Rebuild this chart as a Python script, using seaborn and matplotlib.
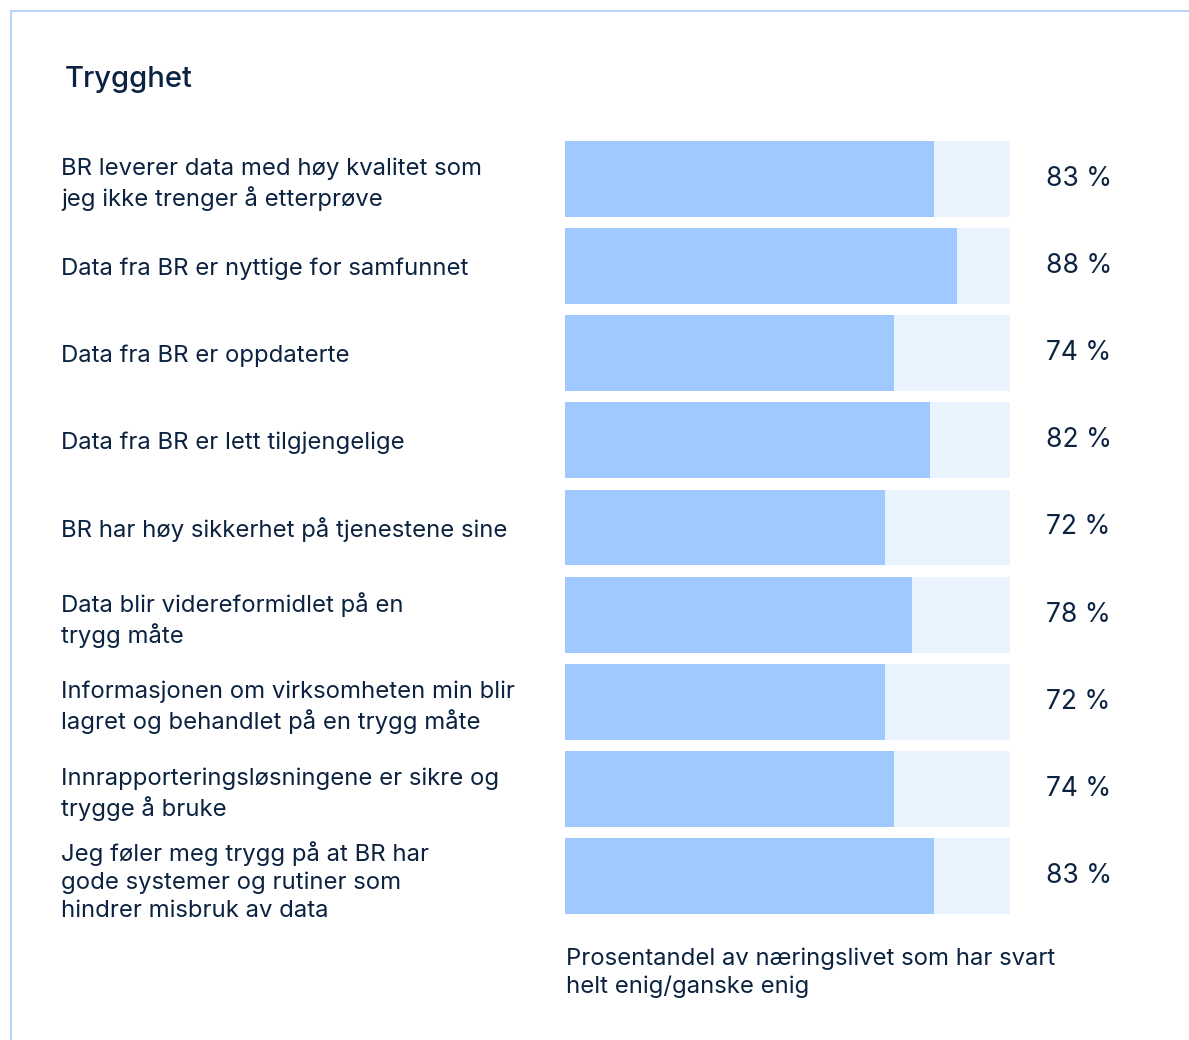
import matplotlib
matplotlib.use("Agg")
import matplotlib.pyplot as plt
from matplotlib.patches import Rectangle
import seaborn as sns
import pandas as pd

title = "Trygghet"
statements = [
    "BR leverer data med høy kvalitet som\njeg ikke trenger å etterprøve",
    "Data fra BR er nyttige for samfunnet",
    "Data fra BR er oppdaterte",
    "Data fra BR er lett tilgjengelige",
    "BR har høy sikkerhet på tjenestene sine",
    "Data blir videreformidlet på en\ntrygg måte",
    "Informasjonen om virksomheten min blir\nlagret og behandlet på en trygg måte",
    "Innrapporteringsløsningene er sikre og\ntrygge å bruke",
    "Jeg føler meg trygg på at BR har\ngode systemer og rutiner som\nhindrer misbruk av data",
]
agree_pct = [83, 88, 74, 82, 72, 78, 72, 74, 83]
scale_max = [100] * len(statements)
footnote = "Prosentandel av næringslivet som har svart\nhelt enig/ganske enig"

df = pd.DataFrame({"statement": statements, "pct": agree_pct, "full": scale_max})

sns.set_theme(style="white")
plt.rcParams["font.family"] = ["Inter", "DejaVu Sans"]

navy = "#0b2340"
bar_col = "#a0caff"
track_col = "#eaf4ff"

fig = plt.figure(figsize=(11.89, 10.40), dpi=100)
ax = fig.add_axes([565 / 1189, 1 - 919.7 / 1040, 445 / 1189, 784.4 / 1040])

sns.barplot(data=df, x="full", y="statement", orient="h", color=track_col,
            width=0.87, saturation=1, linewidth=0, ax=ax)
sns.barplot(data=df, x="pct", y="statement", orient="h", color=bar_col,
            width=0.87, saturation=1, linewidth=0, ax=ax)

ax.bar_label(ax.containers[0], labels=[f"{v} %" for v in agree_pct],
             padding=26, fontsize=19, color=navy)

ax.set_xlim(0, 100)
ax.set_xlabel("")
ax.set_ylabel("")
ax.set_xticks([])
ax.tick_params(axis="y", length=0, pad=363)
for lbl in ax.get_yticklabels():
    lbl.set_horizontalalignment("left")
    lbl.set_fontsize(17.2)
    lbl.set_color(navy)
    lbl.set_linespacing(1.32)
sns.despine(ax=ax, left=True, bottom=True)

fig.text(65 / 1189, 1 - 87 / 1040, title, fontsize=21, fontweight="medium",
         color=navy, va="baseline")
fig.text(566 / 1189, 1 - 947 / 1040, footnote, fontsize=17.2, color=navy,
         va="top", linespacing=1.32)

fig.patches.append(Rectangle((11 / 1189, -0.1), 2, 1.1 - 11 / 1040,
                             transform=fig.transFigure, fill=False,
                             edgecolor="#a9cdfb", linewidth=1.2))

fig.savefig("out.png", dpi=100)
